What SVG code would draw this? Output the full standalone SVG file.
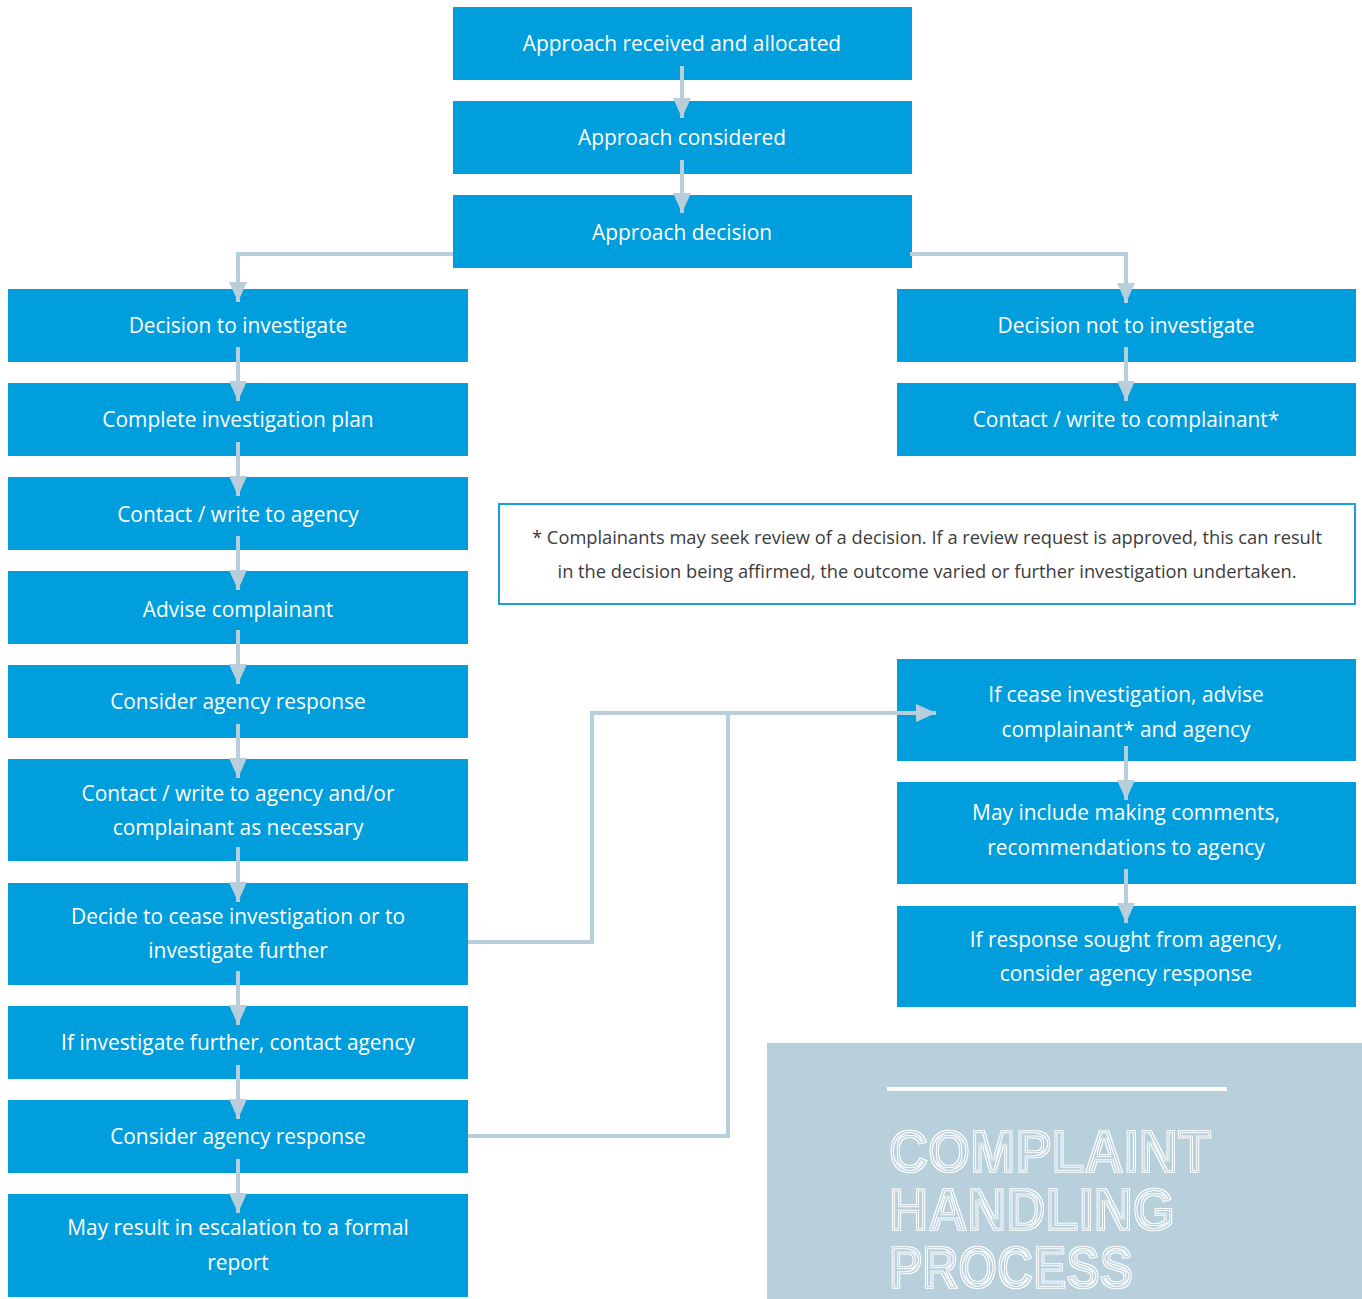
<svg xmlns="http://www.w3.org/2000/svg" width="1362" height="1299" viewBox="0 0 1362 1299">
<defs>
<style>
.box{fill:#009edc}
.t{font-family:"Open Sans","Liberation Sans",sans-serif;font-size:20.9px;fill:#ffffff;text-anchor:middle}
.note{font-family:"Open Sans","Liberation Sans",sans-serif;font-size:18.3px;fill:#3c3c3c;text-anchor:middle}
.c{fill:none;stroke:#b8cfdb;stroke-width:4}
.title{font-family:"Liberation Sans",sans-serif;font-size:60px;font-weight:bold;fill:#ffffff;stroke:#ffffff;stroke-width:1.5}
</style>
<marker id="a" viewBox="0 0 20 18" refX="20" refY="9" markerWidth="20" markerHeight="18" orient="auto" markerUnits="userSpaceOnUse">
<path d="M0,0 L20,9 L0,18 Z" fill="#b8cfdb"/>
</marker>
<filter id="inline" x="-5%" y="-20%" width="110%" height="140%">
<feMorphology in="SourceAlpha" operator="erode" radius="1" result="e1"/>
<feMorphology in="SourceAlpha" operator="erode" radius="2.4" result="e2"/>
<feMorphology in="SourceAlpha" operator="erode" radius="3.4" result="e3"/>
<feComposite in="SourceAlpha" in2="e1" operator="out" result="r1"/>
<feComposite in="e2" in2="e3" operator="out" result="r2"/>
<feMerge result="m"><feMergeNode in="r1"/><feMergeNode in="r2"/></feMerge>
<feFlood flood-color="#ffffff"/>
<feComposite in2="m" operator="in"/>
</filter>
</defs>
<rect width="1362" height="1299" fill="#ffffff"/>

<g id="n-received"><rect class="box" x="453" y="7" width="459" height="73"/><text class="t" x="682" y="51">Approach received and allocated</text></g>
<g id="n-considered"><rect class="box" x="453" y="101" width="459" height="73"/><text class="t" x="682" y="145">Approach considered</text></g>
<g id="n-decision"><rect class="box" x="453" y="195" width="459" height="73"/><text class="t" x="682" y="240">Approach decision</text></g>

<g id="n-investigate"><rect class="box" x="8" y="289" width="460" height="73"/><text class="t" x="238" y="333">Decision to investigate</text></g>
<g id="n-plan"><rect class="box" x="8" y="383" width="460" height="73"/><text class="t" x="238" y="427">Complete investigation plan</text></g>
<g id="n-agency"><rect class="box" x="8" y="477" width="460" height="73"/><text class="t" x="238" y="522">Contact / write to agency</text></g>
<g id="n-advise"><rect class="box" x="8" y="571" width="460" height="73"/><text class="t" x="238" y="617">Advise complainant</text></g>
<g id="n-response1"><rect class="box" x="8" y="665" width="460" height="73"/><text class="t" x="238" y="709">Consider agency response</text></g>
<g id="n-contact2"><rect class="box" x="8" y="759" width="460" height="102"/><text class="t" x="238" y="801">Contact / write to agency and/or</text><text class="t" x="238" y="835">complainant as necessary</text></g>
<g id="n-decide"><rect class="box" x="8" y="883" width="460" height="102"/><text class="t" x="238" y="924">Decide to cease investigation or to</text><text class="t" x="238" y="958">investigate further</text></g>
<g id="n-further"><rect class="box" x="8" y="1006" width="460" height="73"/><text class="t" x="238" y="1050">If investigate further, contact agency</text></g>
<g id="n-response2"><rect class="box" x="8" y="1100" width="460" height="73"/><text class="t" x="238" y="1144">Consider agency response</text></g>
<g id="n-escalation"><rect class="box" x="8" y="1194" width="460" height="103"/><text class="t" x="238" y="1235">May result in escalation to a formal</text><text class="t" x="238" y="1270">report</text></g>

<g id="n-not"><rect class="box" x="897" y="289" width="459" height="73"/><text class="t" x="1126" y="333">Decision not to investigate</text></g>
<g id="n-complainant"><rect class="box" x="897" y="383" width="459" height="73"/><text class="t" x="1126" y="427">Contact / write to complainant*</text></g>

<g id="n-note"><rect x="499" y="504" width="856" height="100" fill="#ffffff" stroke="#1a9fd8" stroke-width="2"/><text class="note" x="927" y="544">* Complainants may seek review of a decision. If a review request is approved, this can result</text><text class="note" x="927" y="578">in the decision being affirmed, the outcome varied or further investigation undertaken.</text></g>

<g id="n-cease"><rect class="box" x="897" y="659" width="459" height="102"/><text class="t" x="1126" y="702">If cease investigation, advise</text><text class="t" x="1126" y="737">complainant* and agency</text></g>
<g id="n-comments"><rect class="box" x="897" y="782" width="459" height="102"/><text class="t" x="1126" y="820">May include making comments,</text><text class="t" x="1126" y="855">recommendations to agency</text></g>
<g id="n-sought"><rect class="box" x="897" y="906" width="459" height="101"/><text class="t" x="1126" y="947">If response sought from agency,</text><text class="t" x="1126" y="981">consider agency response</text></g>

<g id="title-panel">
<rect x="767" y="1043" width="595" height="256" fill="#b8d0dc"/>
<rect x="887" y="1087" width="340" height="4" fill="#ffffff"/>
<g class="title" filter="url(#inline)">
<text x="889" y="1172" textLength="322" lengthAdjust="spacingAndGlyphs">COMPLAINT</text>
<text x="889" y="1230" textLength="286" lengthAdjust="spacingAndGlyphs">HANDLING</text>
<text x="889" y="1288" textLength="244" lengthAdjust="spacingAndGlyphs">PROCESS</text>
</g>
</g>

<g id="connectors">
<path class="c" d="M682,66 V118" marker-end="url(#a)"/>
<path class="c" d="M682,160 V213" marker-end="url(#a)"/>
<path class="c" d="M453,254 H238 V302" marker-end="url(#a)"/>
<path class="c" d="M910,254 H1126 V303" marker-end="url(#a)"/>
<path class="c" d="M238,347 V401" marker-end="url(#a)"/>
<path class="c" d="M238,442 V496" marker-end="url(#a)"/>
<path class="c" d="M238,536 V590" marker-end="url(#a)"/>
<path class="c" d="M238,630 V684" marker-end="url(#a)"/>
<path class="c" d="M238,724 V778" marker-end="url(#a)"/>
<path class="c" d="M238,847 V902" marker-end="url(#a)"/>
<path class="c" d="M238,971 V1025" marker-end="url(#a)"/>
<path class="c" d="M238,1065 V1119" marker-end="url(#a)"/>
<path class="c" d="M238,1159 V1213" marker-end="url(#a)"/>
<path class="c" d="M1126,347 V401" marker-end="url(#a)"/>
<path class="c" d="M1126,746 V800" marker-end="url(#a)"/>
<path class="c" d="M1126,869 V923" marker-end="url(#a)"/>
<path class="c" d="M468,942 H592 V713 H936" marker-end="url(#a)"/>
<path class="c" d="M468,1136 H728 V713"/>
</g>
</svg>
